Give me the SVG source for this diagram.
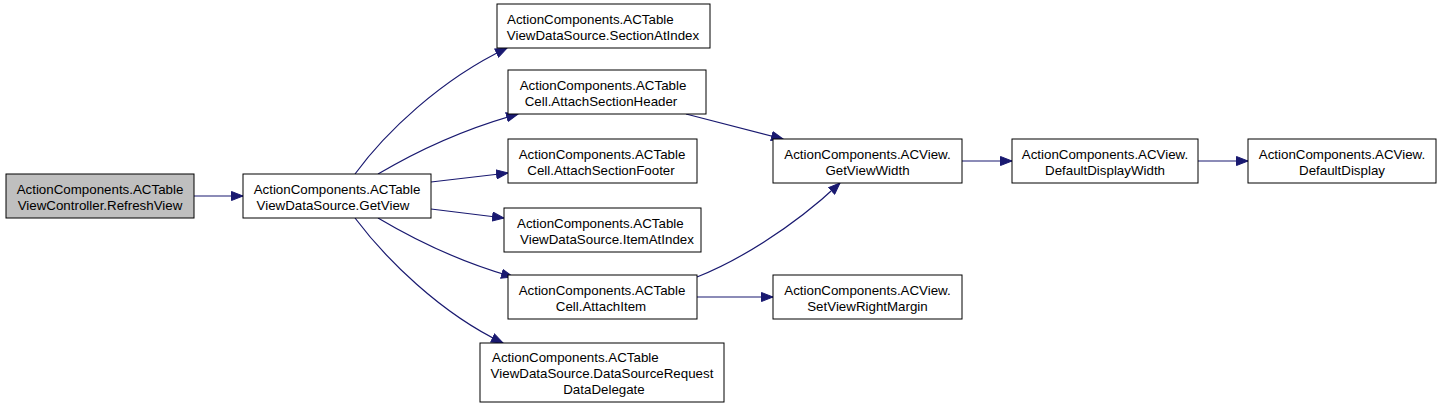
<svg xmlns="http://www.w3.org/2000/svg" width="1443" height="409" viewBox="0 0 1443 409">
<style>
.box{fill:#ffffff;stroke:#000000;stroke-width:1}
.root{fill:#bfbfbf}
text{font-family:"Liberation Sans",Arial,Helvetica,sans-serif;font-size:13.33px;fill:#000000}
.m{text-anchor:middle}
.s{text-anchor:start}
.e{fill:none;stroke:#191970;stroke-width:1.2;marker-end:url(#ah)}
</style>
<defs>
<marker id="ah" markerUnits="userSpaceOnUse" markerWidth="13" markerHeight="10" viewBox="0 0 13 10" refX="12" refY="5" orient="auto">
<path d="M0.5,0.5 L12,5 L0.5,9.5 Z" fill="#191970" stroke="#191970" stroke-width="1"/>
</marker>
</defs>
<rect width="1443" height="409" fill="#ffffff"/>
<g id="connectors">
<path class="e" d="M194,196 L243,196"/>
<path class="e" d="M355,174 C385,133 440,80 507,48"/>
<path class="e" d="M378,174 C410,155 460,130 518,114"/>
<path class="e" d="M431,182 L508,173"/>
<path class="e" d="M431,209 L504,218"/>
<path class="e" d="M378,218 C410,237 460,262 513,277"/>
<path class="e" d="M355,218 C385,258 440,313 503,343"/>
<path class="e" d="M686,114 L783,139"/>
<path class="e" d="M697,277 C735,262 790,230 840,183"/>
<path class="e" d="M697,297 L773,297"/>
<path class="e" d="M962,161 L1012,161"/>
<path class="e" d="M1198,161 L1248,161"/>
</g>
<g id="node-refreshview">
<rect class="box root" x="6" y="174" width="188" height="44"/>
<text class="m" x="100" y="194">ActionComponents.ACTable</text>
<text class="m" x="100" y="210">ViewController.RefreshView</text>
</g>
<g id="node-getview">
<rect class="box" x="243" y="174" width="188" height="44"/>
<text class="m" x="337" y="194">ActionComponents.ACTable</text>
<text class="m" x="333" y="210">ViewDataSource.GetView</text>
</g>
<g id="node-sectionatindex">
<rect class="box" x="497" y="4" width="213" height="44"/>
<text class="s" x="507" y="24">ActionComponents.ACTable</text>
<text class="m" x="603" y="40">ViewDataSource.SectionAtIndex</text>
</g>
<g id="node-attachsectionheader">
<rect class="box" x="508" y="70" width="198" height="44"/>
<text class="m" x="603" y="90">ActionComponents.ACTable</text>
<text class="m" x="601" y="106">Cell.AttachSectionHeader</text>
</g>
<g id="node-attachsectionfooter">
<rect class="box" x="508" y="139" width="189" height="44"/>
<text class="m" x="602" y="159">ActionComponents.ACTable</text>
<text class="m" x="601" y="175">Cell.AttachSectionFooter</text>
</g>
<g id="node-itematindex">
<rect class="box" x="504" y="208" width="197" height="44"/>
<text class="s" x="517" y="228">ActionComponents.ACTable</text>
<text class="m" x="607" y="244">ViewDataSource.ItemAtIndex</text>
</g>
<g id="node-attachitem">
<rect class="box" x="508" y="275" width="189" height="44"/>
<text class="m" x="602" y="295">ActionComponents.ACTable</text>
<text class="m" x="601" y="311">Cell.AttachItem</text>
</g>
<g id="node-datasourcerequest">
<rect class="box" x="480" y="343" width="244" height="59"/>
<text class="s" x="492" y="362">ActionComponents.ACTable</text>
<text class="m" x="602" y="378">ViewDataSource.DataSourceRequest</text>
<text class="m" x="604" y="394">DataDelegate</text>
</g>
<g id="node-getviewwidth">
<rect class="box" x="773" y="139" width="189" height="44"/>
<text class="m" x="867.5" y="159">ActionComponents.ACView.</text>
<text class="m" x="867.5" y="175">GetViewWidth</text>
</g>
<g id="node-setviewrightmargin">
<rect class="box" x="773" y="275" width="189" height="44"/>
<text class="m" x="867.5" y="295">ActionComponents.ACView.</text>
<text class="m" x="867.5" y="311">SetViewRightMargin</text>
</g>
<g id="node-defaultdisplaywidth">
<rect class="box" x="1012" y="139" width="186" height="44"/>
<text class="m" x="1105" y="159">ActionComponents.ACView.</text>
<text class="m" x="1105" y="175">DefaultDisplayWidth</text>
</g>
<g id="node-defaultdisplay">
<rect class="box" x="1248" y="139" width="188" height="44"/>
<text class="m" x="1342" y="159">ActionComponents.ACView.</text>
<text class="m" x="1342" y="175">DefaultDisplay</text>
</g>
</svg>
